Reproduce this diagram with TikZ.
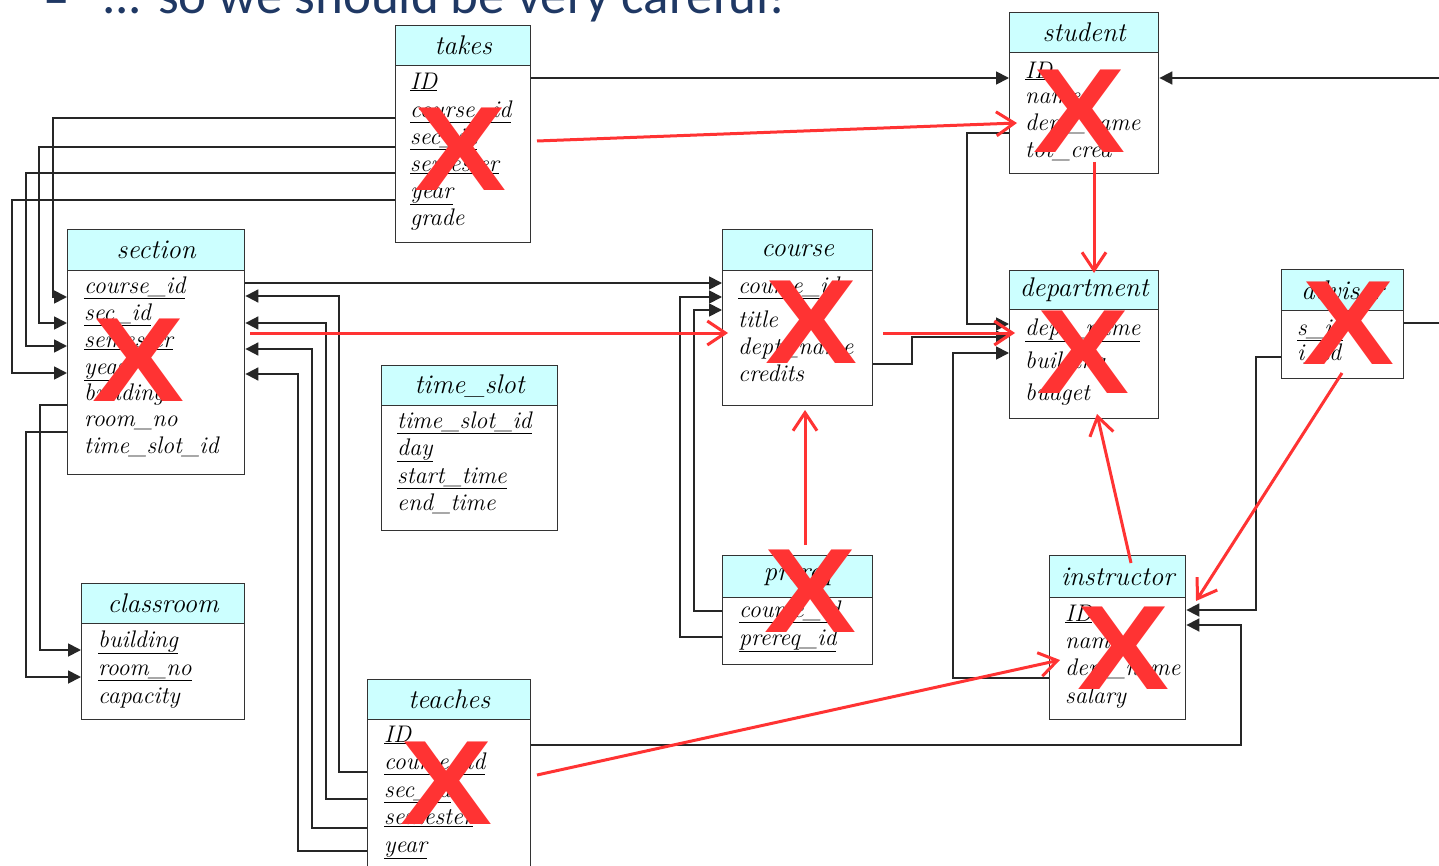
\documentclass[tikz,border=0pt]{standalone}
\usepackage{fontspec}
\usetikzlibrary{arrows.meta}
\newfontfamily\carl{Carlito}
\newfontfamily\xfont{Liberation Sans}
\definecolor{hdr}{RGB}{204,255,255}
\definecolor{xred}{RGB}{255,51,51}
\definecolor{navy}{RGB}{31,56,100}
\tikzset{
  hdrbox/.style={draw=black!80, line width=1.4pt, fill=hdr, inner sep=0pt, anchor=north west,
    font=\fontsize{27}{27}\selectfont\itshape},
  bodybox/.style={draw=black!80, line width=1.4pt, fill=white, inner sep=0pt, anchor=north west},
  fld/.style={anchor=mid west, inner sep=0pt, font=\fontsize{24}{24}\selectfont\itshape},
  xm/.style={inner sep=0pt, text=xred, font=\fontsize{120}{120}\selectfont\xfont\bfseries, xscale=1.15},
  blka/.style={draw=black!85, line width=1.8pt, -{Triangle[length=13pt,width=13pt]}},
  redarrow/.style={draw=xred, line width=3pt, -{Straight Barb[length=18pt,width=24pt,line width=3pt]}}
}
\newcommand\tbl[7]{%
  \node[hdrbox, minimum width={(#4-#2)*1pt}, minimum height={(#5-#3)*1pt}] (#1h) at (#2,#3) {#7};
  \node[bodybox, minimum width={(#4-#2)*1pt}, minimum height={(#6-#5)*1pt}] (#1) at (#2,#5) {};
}
\newcommand\fld[4]{\node[fld] (#1) at (#2,#3) {#4};}
\begin{document}
\begin{tikzpicture}[x=1pt,y=-1pt]
\useasboundingbox (0,0) rectangle (1439,866);
\clip (0,0) rectangle (1439,866);
\fill[white] (0,0) rectangle (1439,866);
% title line
\node[anchor=base west, inner sep=0pt, text=navy, font=\carl\fontsize{53}{53}\selectfont] (dash) at (43,17) {–};
\node[anchor=base west, inner sep=0pt, text=navy, font=\carl\fontsize{53}{53}\selectfont] (title) at (102,14) {... so we should be very careful!};
% tables
\tbl{takes}{395}{25}{530}{65}{242}{takes}
\tbl{student}{1009}{12}{1158}{52}{173}{student}
\tbl{section}{67}{229}{244}{270}{474}{section}
\tbl{course}{722}{229}{872}{270}{405}{course}
\tbl{dept}{1009}{270}{1158}{309}{418}{department}
\tbl{advisor}{1281}{269}{1403}{310}{378}{advisor}
\tbl{timeslot}{381}{365}{557}{405}{530}{time\_slot}
\tbl{classroom}{81}{583}{244}{623}{719}{classroom}
\tbl{prereq}{722}{555}{872}{597}{664}{prereq}
\tbl{instructor}{1049}{555}{1185}{597}{719}{instructor}
\tbl{teaches}{367}{679}{530}{719}{900}{teaches}
% black connectors
\draw[blka] (takes.east |- 0,78) -- (student.west |- 0,78);
\draw[blka] (takes.west |- 0,118) -| (53,297) -- (section.west |- 0,297);
\draw[blka] (takes.west |- 0,147) -| (39,323) -- (section.west |- 0,323);
\draw[blka] (takes.west |- 0,173) -| (26,346) -- (section.west |- 0,346);
\draw[blka] (takes.west |- 0,200) -| (12,373) -- (section.west |- 0,373);
\draw[blka] (section.west |- 0,405) -| (40,650) -- (classroom.west |- 0,650);
\draw[blka] (section.west |- 0,432) -| (26,677) -- (classroom.west |- 0,677);
\draw[blka] (section.east |- 0,283) -- (course.west |- 0,283);
\draw[blka] (prereq.west |- 0,637) -| (680,297) -- (course.west |- 0,297);
\draw[blka] (prereq.west |- 0,611) -| (694,310) -- (course.west |- 0,310);
\draw[blka] (teaches.west |- 0,772) -| (339,296) -- (section.east |- 0,296);
\draw[blka] (teaches.west |- 0,799) -| (326,323) -- (section.east |- 0,323);
\draw[blka] (teaches.west |- 0,828) -| (312,349) -- (section.east |- 0,349);
\draw[blka] (teaches.west |- 0,851) -| (298,374) -- (section.east |- 0,374);
\draw[blka] (student.west |- 0,133) -| (967,324) -- (dept.west |- 0,324);
\draw[blka] (course.east |- 0,364) -| (912,337) -- (dept.west |- 0,337);
\draw[blka] (instructor.west |- 0,678) -| (953,353) -- (dept.west |- 0,353);
\draw[blka] (advisor.east |- 0,323) -| (1470,78) -- (student.east |- 0,78);
\draw[blka] (advisor.west |- 0,357) -| (1256,610) -- (instructor.east |- 0,610);
\draw[blka] (teaches.east |- 0,745) -| (1241,625) -- (instructor.east |- 0,625);
% fields
\fld{tk1}{410}{87}{\underline{ID}}
\fld{tk2}{410}{115}{\underline{course\_id}}
\fld{tk3}{410}{142}{\underline{sec\_id}}
\fld{tk4}{410}{169}{\underline{semester}}
\fld{tk5}{410}{196}{\underline{year}}
\fld{tk6}{410}{223}{grade}
\fld{st1}{1025}{76}{\underline{ID}}
\fld{st2}{1025}{101}{name}
\fld{st3}{1025}{128}{dept\_name}
\fld{st4}{1025}{155}{tot\_cred}
\fld{se1}{84}{291}{\underline{course\_id}}
\fld{se2}{84}{318}{\underline{sec\_id}}
\fld{se3}{84}{345}{\underline{semester}}
\fld{se4}{84}{372}{\underline{year}}
\fld{se5}{84}{398}{building}
\fld{se6}{84}{424}{room\_no}
\fld{se7}{84}{451}{time\_slot\_id}
\fld{co1}{738}{291}{\underline{course\_id}}
\fld{co2}{738}{325}{title}
\fld{co3}{738}{352}{dept\_name}
\fld{co4}{738}{379}{credits}
\fld{de1}{1025}{333}{\underline{dept\_name}}
\fld{de2}{1025}{366}{building}
\fld{de3}{1025}{398}{budget}
\fld{ad1}{1297}{333}{\underline{s\_id}}
\fld{ad2}{1297}{358}{i\_id}
\fld{ts1}{397}{426}{\underline{time\_slot\_id}}
\fld{ts2}{397}{453}{\underline{day}}
\fld{ts3}{397}{481}{\underline{start\_time}}
\fld{ts4}{397}{508}{end\_time}
\fld{cl1}{98}{645}{\underline{building}}
\fld{cl2}{98}{673}{\underline{room\_no}}
\fld{cl3}{98}{701}{capacity}
\fld{pr1}{739}{615}{\underline{course\_id}}
\fld{pr2}{739}{643}{\underline{prereq\_id}}
\fld{in1}{1065}{619}{\underline{ID}}
\fld{in2}{1065}{646}{name}
\fld{in3}{1065}{673}{dept\_name}
\fld{in4}{1065}{701}{salary}
\fld{te1}{384}{740}{\underline{ID}}
\fld{te2}{384}{767}{\underline{course\_id}}
\fld{te3}{384}{795}{\underline{sec\_id}}
\fld{te4}{384}{822}{\underline{semester}}
\fld{te5}{384}{850}{\underline{year}}
% red X marks
\node[xm] (x1) at (461,149) {X};
\node[xm] (x2) at (1080,111) {X};
\node[xm] (x3) at (139,360) {X};
\node[xm] (x4) at (812,322) {X};
\node[xm] (x5) at (1084,352) {X};
\node[xm] (x6) at (1349,323) {X};
\node[xm] (x7) at (811,591) {X};
\node[xm] (x8) at (1124,648) {X};
\node[xm] (x9) at (447,783) {X};
% red arrows
\coordinate (ra1) at (537,141); \coordinate (rb1) at (1017,123);
\coordinate (ra2) at (250,333); \coordinate (rb2) at (728,333);
\coordinate (ra3) at (883,333); \coordinate (rb3) at (1015,333);
\coordinate (ra4) at (1094,162); \coordinate (rb4) at (1094,273);
\coordinate (ra5) at (805,545); \coordinate (rb5) at (805,410);
\coordinate (ra6) at (1131,563); \coordinate (rb6) at (1097,414);
\coordinate (ra7) at (1342,373); \coordinate (rb7) at (1196,601);
\coordinate (ra8) at (537,775); \coordinate (rb8) at (1060,660);
\draw[redarrow] (ra1) -- (rb1);
\draw[redarrow] (ra2) -- (rb2);
\draw[redarrow] (ra3) -- (rb3);
\draw[redarrow] (ra4) -- (rb4);
\draw[redarrow] (ra5) -- (rb5);
\draw[redarrow] (ra6) -- (rb6);
\draw[redarrow] (ra7) -- (rb7);
\draw[redarrow] (ra8) -- (rb8);
\end{tikzpicture}
\end{document}
